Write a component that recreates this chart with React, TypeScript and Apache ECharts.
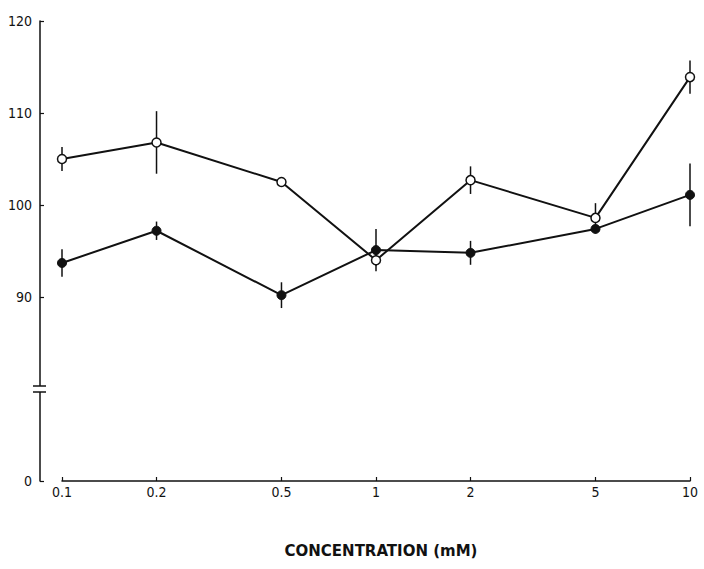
import React, { useEffect, useRef } from "react";
import * as echarts from "echarts";

const concentrations = [0.1, 0.2, 0.5, 1, 2, 5, 10];
const xTickLabels = ["0.1", "0.2", "0.5", "1", "2", "5", "10"];
const openMeans = [105.0, 106.8, 102.5, 94.0, 102.7, 98.6, 113.9];
const openErrors = [1.3, 3.4, 0.3, 0.6, 1.5, 1.6, 1.8];
const filledMeans = [93.7, 97.2, 90.2, 95.1, 94.8, 97.4, 101.1];
const filledErrors = [1.5, 1.0, 1.4, 2.3, 1.3, 0.5, 3.4];
// the 0 of the broken axis sits one interval below the break (drawn at 80)
const yTickValues = [70, 90, 100, 110, 120];
const yTickLabels = ["0", "90", "100", "110", "120"];
const breakValue = 80;

const INK = "#111";
const FONT = "DejaVu Sans Condensed";

export default function App() {
  const ref = useRef<HTMLDivElement>(null);
  useEffect(() => {
    if (!ref.current) return;
    const chart = echarts.init(ref.current, null, { renderer: "svg" });
    const errorSeries = (means: number[], errs: number[]) => ({
      type: "custom",
      z: 1,
      data: concentrations.map((c, i) => [c, means[i], errs[i]]),
      renderItem: (_p: any, api: any) => {
        const x = api.value(0);
        const y = api.value(1);
        const e = api.value(2);
        const top = api.coord([x, y + e]);
        const bot = api.coord([x, y - e]);
        return {
          type: "line",
          shape: { x1: top[0], y1: top[1], x2: bot[0], y2: bot[1] },
          style: { stroke: INK, lineWidth: 1.5 },
        };
      },
    });
    const option: any = {
      animation: false,
      backgroundColor: "#fff",
      grid: { left: 62, right: 14, top: 21, bottom: 88 },
      xAxis: {
        type: "log",
        logBase: 10,
        min: 0.1,
        max: 10,
        splitLine: { show: false },
        axisLine: { onZero: false, lineStyle: { color: INK, width: 1.5 } },
        axisTick: {
          inside: true,
          length: 4,
          customValues: concentrations,
          lineStyle: { color: INK, width: 1.2 },
        },
        minorTick: { show: false },
        axisLabel: {
          customValues: concentrations,
          formatter: (v: number) => {
            const i = concentrations.findIndex((c) => Math.abs(c - v) < 1e-9);
            return i >= 0 ? xTickLabels[i] : "";
          },
          color: INK,
          fontFamily: FONT,
          fontSize: 14,
          margin: 4,
        },
        name: "CONCENTRATION (mM)",
        nameLocation: "middle",
        nameGap: 62,
        nameTextStyle: {
          color: INK,
          fontFamily: "DejaVu Sans",
          fontWeight: "bold",
          fontSize: 15,
          padding: [0, 0, 0, 10],
        },
      },
      yAxis: {
        type: "value",
        min: 70,
        max: 120,
        interval: 10,
        offset: 22,
        splitLine: { show: false },
        axisLine: { show: true, onZero: false, lineStyle: { color: INK, width: 1.5 } },
        axisTick: {
          show: true,
          inside: true,
          length: 4,
          customValues: yTickValues,
          lineStyle: { color: INK, width: 1.2 },
        },
        axisLabel: {
          customValues: yTickValues,
          formatter: (v: number) => {
            const i = yTickValues.indexOf(v);
            return i >= 0 ? yTickLabels[i] : "";
          },
          color: INK,
          fontFamily: FONT,
          fontSize: 14,
          margin: 8,
        },
      },
      series: [
        errorSeries(openMeans, openErrors),
        errorSeries(filledMeans, filledErrors),
        {
          type: "line",
          z: 3,
          data: concentrations.map((c, i) => [c, openMeans[i]]),
          symbol: "circle",
          symbolSize: 9,
          lineStyle: { color: INK, width: 2 },
          itemStyle: { color: "#fff", borderColor: INK, borderWidth: 1.5 },
        },
        {
          type: "line",
          z: 3,
          data: concentrations.map((c, i) => [c, filledMeans[i]]),
          symbol: "circle",
          symbolSize: 9,
          lineStyle: { color: INK, width: 2 },
          itemStyle: { color: INK, borderColor: INK, borderWidth: 1 },
        },
      ],
    };
    chart.setOption(option);
    const by = chart.convertToPixel({ yAxisIndex: 0 }, breakValue) as number;
    const ax = 62 - 22;
    chart.setOption({
      graphic: [
        { type: "rect", shape: { x: ax - 3, y: by - 3, width: 6, height: 6 }, style: { fill: "#fff" }, z: 100 },
        { type: "line", shape: { x1: ax - 7, y1: by - 3, x2: ax + 6, y2: by - 3 }, style: { stroke: INK, lineWidth: 1.5 }, z: 101 },
        { type: "line", shape: { x1: ax - 7, y1: by + 3, x2: ax + 6, y2: by + 3 }, style: { stroke: INK, lineWidth: 1.5 }, z: 101 },
      ],
    });
    return () => chart.dispose();
  }, []);
  return (
    <div
      ref={ref}
      style={{ position: "absolute", left: 0, top: 0, width: 704, height: 569 }}
    />
  );
}
